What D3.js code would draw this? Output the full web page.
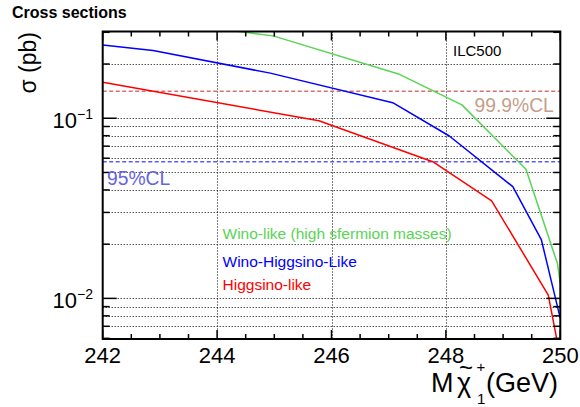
<!DOCTYPE html>
<html>
<head>
<meta charset="utf-8">
<script src="https://cdn.jsdelivr.net/npm/d3@7"></script>
<style>
  html, body { margin: 0; padding: 0; background: #fff; }
  svg { display: block; font-family: "Liberation Sans", Arial, Helvetica, sans-serif; }
</style>
</head>
<body>
<svg id="chart" width="580" height="407"></svg>
<script>
// ---- data ----
const massGreen = [242, 244.98, 247.17, 248.28, 249.40, 249.95, 250.0];
const xsGreen   = [0.38, 0.2866, 0.1762, 0.1186, 0.0521, 0.0156, 0.0121];

const massBlue = [242, 242.88, 244.93, 247.07, 248.06, 249.17, 249.67, 250.0];
const xsBlue   = [0.255, 0.2375, 0.178, 0.122, 0.0797, 0.0417, 0.0211, 0.00774];

const massRed = [242, 245.78, 247.77, 248.80, 249.79, 250.0];
const xsRed   = [0.1585, 0.0968, 0.0574, 0.0348, 0.01043, 0.0047];

const limit999 = 0.1413;
const limit95  = 0.0573;

const xTickValues = [242, 244, 246, 248, 250];
const xMinorValues = d3.range(242, 250.001, 0.5);
const yMajorValues = [0.01, 0.1];
const yMajorExp = ["\u22122", "\u22121"];
const yMinorValues = [0.006, 0.007, 0.008, 0.009, 0.02, 0.03, 0.04, 0.05, 0.06, 0.07, 0.08, 0.09, 0.2, 0.3];

const legendLabels = ["Wino-like (high sfermion masses)", "Wino-Higgsino-Like", "Higgsino-like"];

// ---- layout ----
const svg = d3.select("#chart");
const L = 102.7, R = 560.3, T = 31.5, B = 339;
const x = d3.scaleLinear().domain([242, 250]).range([L, R]);
const y = d3.scaleLog().domain([0.00595, 0.3]).range([B, 32.3]);

const cGreen = "#59d454", cBlue = "#0000ff", cRed = "#ff0000";

svg.append("defs").append("clipPath").attr("id", "clip")
  .append("rect").attr("x", L).attr("y", T).attr("width", R - L).attr("height", B - T);

// grid
const grid = svg.append("g").attr("stroke", "#000").attr("stroke-width", 1).attr("stroke-dasharray", "1,2");
grid.selectAll("line.gx").data([244, 246, 248]).join("line")
  .attr("x1", d => Math.round(x(d)) + 0.5).attr("x2", d => Math.round(x(d)) + 0.5)
  .attr("y1", T).attr("y2", B);
grid.selectAll("line.gy").data(yMinorValues.filter(v => v < 0.3).concat(yMajorValues)).join("line")
  .attr("y1", d => Math.round(y(d)) + 0.5).attr("y2", d => Math.round(y(d)) + 0.5)
  .attr("x1", L).attr("x2", R);

// limit lines
svg.append("line").attr("x1", L).attr("x2", R).attr("y1", y(limit999)).attr("y2", y(limit999))
  .attr("stroke", "#d97070").attr("stroke-width", 1.6).attr("stroke-dasharray", "4,2.5");
svg.append("line").attr("x1", L).attr("x2", R).attr("y1", y(limit95)).attr("y2", y(limit95))
  .attr("stroke", "#5c5cf0").attr("stroke-width", 1.6).attr("stroke-dasharray", "4,2.5");

// data lines
const line = d3.line().x(d => x(d[0])).y(d => y(d[1]));
const series = [
  {m: massGreen, v: xsGreen, c: cGreen},
  {m: massBlue, v: xsBlue, c: cBlue},
  {m: massRed, v: xsRed, c: cRed}
];
const lines = svg.append("g").attr("clip-path", "url(#clip)");
series.forEach(s => {
  lines.append("path").datum(s.m.map((m, i) => [m, s.v[i]]))
    .attr("d", line).attr("fill", "none").attr("stroke", s.c).attr("stroke-width", 1.5)
    .attr("stroke-linejoin", "round");
});

// ticks (inside frame on all four sides)
const ticks = svg.append("g").attr("stroke", "#000").attr("stroke-width", 1.5);
xMinorValues.forEach(v => {
  const major = xTickValues.includes(v);
  const len = major ? 9 : 5;
  ticks.append("line").attr("x1", x(v)).attr("x2", x(v)).attr("y1", B).attr("y2", B - len);
  ticks.append("line").attr("x1", x(v)).attr("x2", x(v)).attr("y1", T).attr("y2", T + len);
});
yMinorValues.concat(yMajorValues).forEach(v => {
  const major = yMajorValues.includes(v);
  const len = major ? 14 : 7;
  ticks.append("line").attr("y1", y(v)).attr("y2", y(v)).attr("x1", L).attr("x2", L + len);
  ticks.append("line").attr("y1", y(v)).attr("y2", y(v)).attr("x1", R).attr("x2", R - len);
});

// frame
svg.append("rect").attr("x", L).attr("y", T).attr("width", R - L).attr("height", B - T)
  .attr("fill", "none").attr("stroke", "#000").attr("stroke-width", 2);

// x tick labels
svg.selectAll("text.xt").data(xTickValues).join("text")
  .attr("x", d => x(d)).attr("y", 363).attr("text-anchor", "middle")
  .attr("font-size", 22).attr("fill", "#000").text(d => d);

// y tick labels
yMajorValues.forEach((v, i) => {
  svg.append("text").attr("x", 77).attr("y", y(v) + 10).attr("text-anchor", "end")
    .attr("font-size", 22).text("10");
  svg.append("text").attr("x", 77).attr("y", y(v) + 0.5).attr("text-anchor", "start")
    .attr("font-size", 14).text(yMajorExp[i]);
});

// axis titles
svg.append("text").attr("transform", "translate(36,32) rotate(-90)")
  .attr("text-anchor", "end").attr("font-size", 23).text("\u03c3 (pb)");

const xt = svg.append("text").attr("y", 391.5).attr("font-size", 27);
xt.append("tspan").attr("x", 431).attr("y", 391.5).text("M");
xt.append("tspan").attr("x", 457).attr("y", 391.5).text("\u03c7");
xt.append("tspan").attr("x", 459).attr("y", 375.5).attr("font-size", 24).text("~");
xt.append("tspan").attr("x", 476.5).attr("y", 372).attr("font-size", 15).text("+");
xt.append("tspan").attr("x", 477).attr("y", 404).attr("font-size", 15).text("1");
xt.append("tspan").attr("x", 486).attr("y", 391.5).text("(GeV)");

// title
svg.append("text").attr("x", 12).attr("y", 17.5).attr("font-size", 16).attr("font-weight", "bold").text("Cross sections");

// annotations
svg.append("text").attr("x", 453).attr("y", 56).attr("font-size", 15).text("ILC500");
svg.append("text").attr("x", 474.5).attr("y", 111.5).attr("font-size", 19.3).attr("fill", "#c4a08c").text("99.9%CL");
svg.append("text").attr("x", 107).attr("y", 185).attr("font-size", 19.3).attr("fill", "#6464e0").text("95%CL");

// legend
const legendY = [239.3, 266.7, 290];
const legendC = [cGreen, cBlue, cRed];
legendLabels.forEach((t, i) => {
  svg.append("text").attr("x", 222.5).attr("y", legendY[i]).attr("font-size", 15.5)
    .attr("fill", legendC[i]).text(t);
});
</script>
</body>
</html>
